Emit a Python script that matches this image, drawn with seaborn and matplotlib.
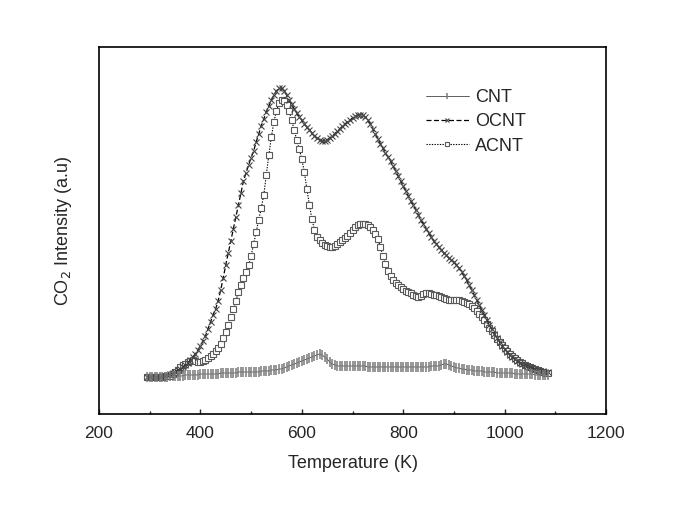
import numpy as np
import pandas as pd
import matplotlib
matplotlib.use("Agg")
import matplotlib.pyplot as plt
import seaborn as sns

sns.set_style("ticks")
plt.rcParams['font.family'] = ['Liberation Sans', 'DejaVu Sans']

# temperature grid (K), one reading every 5 K from 295 to 1085
temps = np.arange(295, 1090, 5)

# CO2 intensity (arbitrary units)
cnt = [0, 0, 0, 0, 0, 0, 0, 0, 0, 1,
       1, 1, 1, 1, 1, 2, 2, 2, 2, 2,
       2, 3, 3, 3, 3, 3, 3, 3, 3, 4,
       4, 4, 4, 4, 4, 4, 5, 5, 5, 5,
       5, 5, 5, 5, 5, 6, 6, 6, 6, 7,
       7, 7, 8, 8, 9, 10, 11, 12, 13, 14,
       15, 16, 17, 18, 19, 20, 21, 22, 23, 22,
       20, 18, 15, 13, 12, 11, 11, 11, 11, 11,
       11, 11, 11, 11, 11, 11, 11, 10, 10, 10,
       10, 10, 10, 10, 10, 10, 10, 10, 10, 10,
       10, 10, 10, 10, 10, 10, 10, 10, 10, 10,
       10, 10, 11, 11, 11, 11, 12, 13, 13, 12,
       11, 10, 9, 9, 8, 8, 7, 7, 7, 6,
       6, 6, 6, 5, 5, 5, 5, 5, 4, 4,
       4, 4, 4, 4, 4, 3, 3, 3, 3, 3,
       3, 3, 3, 2, 2, 2, 2, 2, 2]

ocnt = [0, 0, 0, 0, 0, 0, 1, 1, 2, 3,
        4, 5, 7, 8, 10, 12, 14, 17, 20, 23,
        27, 31, 36, 41, 48, 55, 62, 68, 76, 87,
        99, 112, 124, 136, 148, 160, 172, 184, 196, 204,
        212, 219, 226, 235, 243, 251, 258, 265, 271, 277,
        282, 286, 289, 289, 286, 282, 277, 273, 268, 264,
        260, 257, 253, 250, 247, 244, 241, 239, 237, 236,
        236, 237, 239, 241, 243, 246, 248, 251, 253, 255,
        257, 259, 261, 262, 262, 262, 260, 257, 253, 248,
        243, 238, 233, 229, 224, 220, 216, 211, 206, 201,
        196, 191, 186, 181, 176, 172, 167, 162, 157, 153,
        148, 144, 140, 136, 133, 130, 127, 124, 122, 119,
        117, 115, 112, 109, 105, 101, 97, 92, 87, 82,
        77, 72, 67, 62, 57, 52, 48, 43, 39, 35,
        31, 28, 25, 22, 20, 18, 16, 14, 13, 12,
        11, 10, 9, 8, 7, 6, 6, 5, 5]

acnt = [0, 0, 0, 0, 0, 0, 0, 1, 1, 1,
        3, 5, 7, 10, 12, 13, 15, 16, 17, 16,
        15, 15, 16, 17, 19, 21, 23, 26, 29, 33,
        39, 45, 52, 60, 68, 76, 85, 92, 99, 105,
        112, 121, 133, 145, 157, 169, 182, 202, 222, 240,
        255, 266, 274, 277, 276, 272, 266, 257, 247, 237,
        228, 218, 205, 188, 172, 158, 147, 140, 137, 134,
        132, 131, 130, 130, 131, 133, 135, 137, 139, 141,
        144, 147, 150, 152, 153, 153, 153, 152, 150, 147,
        143, 138, 130, 121, 113, 106, 101, 97, 94, 92,
        90, 88, 86, 85, 84, 82, 81, 80, 81, 83,
        84, 84, 83, 82, 82, 81, 80, 79, 78, 77,
        77, 77, 77, 77, 76, 75, 74, 73, 71, 69,
        66, 63, 60, 57, 53, 49, 46, 42, 38, 35,
        32, 29, 26, 23, 21, 19, 17, 15, 14, 12,
        11, 10, 9, 8, 7, 6, 5, 4, 4]

x_ticks = [200, 400, 600, 800, 1000, 1200]

fig = plt.figure(figsize=(6.85, 5.14), dpi=100)
ax = fig.add_axes([0.1445, 0.1946, 0.7402, 0.714])

sns.lineplot(x=temps, y=cnt, ax=ax, color='#444444', lw=0.6, linestyle='-',
             marker='|', markersize=6.5, markeredgecolor='#7a7a7a', markeredgewidth=1.1,
             label='CNT', zorder=4)
sns.lineplot(x=temps, y=ocnt, ax=ax, color='black', lw=0.9, linestyle=(0, (4, 2)),
             marker='x', markersize=5, markeredgecolor='#444444', markeredgewidth=0.8,
             label='OCNT', zorder=3)
sns.lineplot(x=temps, y=acnt, ax=ax, color='black', lw=0.8, linestyle=(0, (1.2, 1.2)),
             marker='s', markersize=3.8, markerfacecolor='white', markeredgecolor='#5a5a5a',
             markeredgewidth=0.8, label='ACNT', zorder=2)

ax.set_xlim(200, 1200)
ax.set_ylim(-37, 330)
ax.set_xticks(x_ticks)
ax.set_xticks(np.arange(300, 1200, 200), minor=True)
ax.set_yticks([])
ax.tick_params(axis='x', which='major', direction='in', length=3.5, width=1, labelsize=12.5, pad=9)
ax.tick_params(axis='x', which='minor', direction='in', length=2.5, width=1)
for s in ax.spines.values():
    s.set_linewidth(1.2)
    s.set_color('black')

ax.set_xlabel('Temperature (K)', fontsize=13, labelpad=10)
ax.set_ylabel('CO$_2$ Intensity (a.u)', fontsize=13, labelpad=18)

leg = ax.legend(loc='upper left', bbox_to_anchor=(0.63, 0.905), frameon=False,
                fontsize=13, handlelength=2.4, handletextpad=0.35, labelspacing=0.4,
                borderaxespad=0, markerscale=0.6)

fig.savefig('out.png', dpi=100)
